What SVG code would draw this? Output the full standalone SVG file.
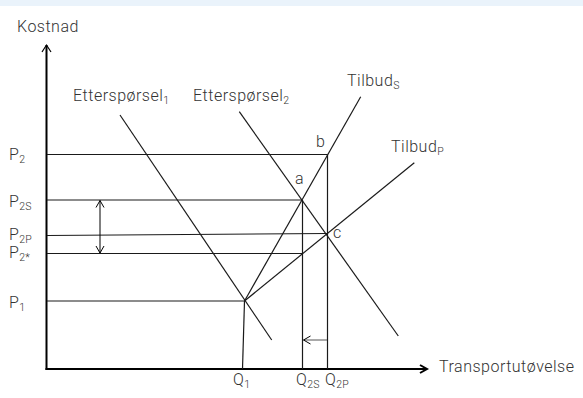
<svg xmlns="http://www.w3.org/2000/svg" width="583" height="398" viewBox="0 0 583 398">
<style>
text{font-family:Roboto,"Liberation Sans",sans-serif;fill:#333;font-size:16px;font-weight:300;letter-spacing:0.5px}
.sub{font-size:10.5px;letter-spacing:0}
.ln{stroke:#1a1a1a;stroke-width:1.2;fill:none}
.ax{stroke:#000;stroke-width:2;fill:none}
</style>
<defs>
<marker id="open" markerWidth="10" markerHeight="10" refX="8" refY="5" orient="auto" markerUnits="userSpaceOnUse">
<path d="M1,1 L8,5 L1,9" fill="none" stroke="#000" stroke-width="1"/>
</marker>
<marker id="axh" markerWidth="12" markerHeight="12" refX="9" refY="6" orient="auto" markerUnits="userSpaceOnUse">
<path d="M2,2 L9,6 L2,10" fill="none" stroke="#000" stroke-width="2"/>
</marker>
<marker id="yh" markerWidth="12" markerHeight="12" refX="9" refY="6" orient="auto" markerUnits="userSpaceOnUse">
<path d="M2,1.5 L9,6 L2,10.5" fill="none" stroke="#000" stroke-width="1.2"/>
</marker>
</defs>
<rect x="0" y="0" width="583" height="398" fill="#fff"/>
<rect x="0" y="0" width="583" height="6" fill="#eaf3fb"/>
<g id="axes">
<line class="ax" x1="46.5" y1="370" x2="46.5" y2="45" marker-end="url(#yh)"/>
<line class="ax" x1="45.5" y1="369" x2="427" y2="369" marker-end="url(#axh)"/>
</g>
<g id="levels">
<line class="ln" x1="47" y1="154.5" x2="327.5" y2="154.5"/>
<line class="ln" x1="47" y1="200" x2="302" y2="200"/>
<line class="ln" x1="47" y1="235.5" x2="327.5" y2="233.5"/>
<line class="ln" x1="47" y1="253.5" x2="302" y2="253.5"/>
<line class="ln" x1="47" y1="301" x2="244.5" y2="301"/>
<line class="ln" x1="244.5" y1="301" x2="242.5" y2="369"/>
<line class="ln" x1="302.5" y1="200" x2="302.5" y2="369"/>
<line class="ln" x1="327.5" y1="154.5" x2="327.5" y2="369"/>
</g>
<g id="curves">
<line class="ln" x1="120" y1="115" x2="271.7" y2="340"/>
<line class="ln" x1="239.3" y1="111.7" x2="398.3" y2="336"/>
<line class="ln" x1="244.5" y1="301" x2="360.7" y2="96.7"/>
<line class="ln" x1="244.5" y1="301" x2="414.3" y2="162.7"/>
</g>
<g id="arrows">
<line x1="100" y1="227" x2="100" y2="200.5" stroke="#000" stroke-width="1" marker-end="url(#open)"/>
<line x1="100" y1="227" x2="100" y2="253" stroke="#000" stroke-width="1" marker-end="url(#open)"/>
<line x1="327" y1="340" x2="303.5" y2="340" stroke="#555" stroke-width="1" marker-end="url(#open)"/>
</g>
<g id="labels">
<text x="17" y="32">Kostnad</text>
<text x="73" y="101">Etterspørsel<tspan class="sub" dy="3">1</tspan></text>
<text x="193" y="101">Etterspørsel<tspan class="sub" dy="3">2</tspan></text>
<text x="347" y="86">Tilbud<tspan class="sub" dy="3">S</tspan></text>
<text x="391" y="152">Tilbud<tspan class="sub" dy="3">P</tspan></text>
<text x="316" y="147">b</text>
<text x="295" y="184">a</text>
<text x="333" y="238">c</text>
<text x="9" y="160">P<tspan class="sub" dy="3">2</tspan></text>
<text x="9" y="207">P<tspan class="sub" dy="3">2S</tspan></text>
<text x="9" y="240">P<tspan class="sub" dy="3">2P</tspan></text>
<text x="9" y="258">P<tspan class="sub" dy="3">2*</tspan></text>
<text x="9" y="308">P<tspan class="sub" dy="3">1</tspan></text>
<text x="233" y="385">Q<tspan class="sub" dy="3">1</tspan></text>
<text x="296" y="385">Q<tspan class="sub" dy="3">2S</tspan></text>
<text x="325" y="385">Q<tspan class="sub" dy="3">2P</tspan></text>
<text x="439" y="372">Transportutøvelse</text>
</g>
</svg>
